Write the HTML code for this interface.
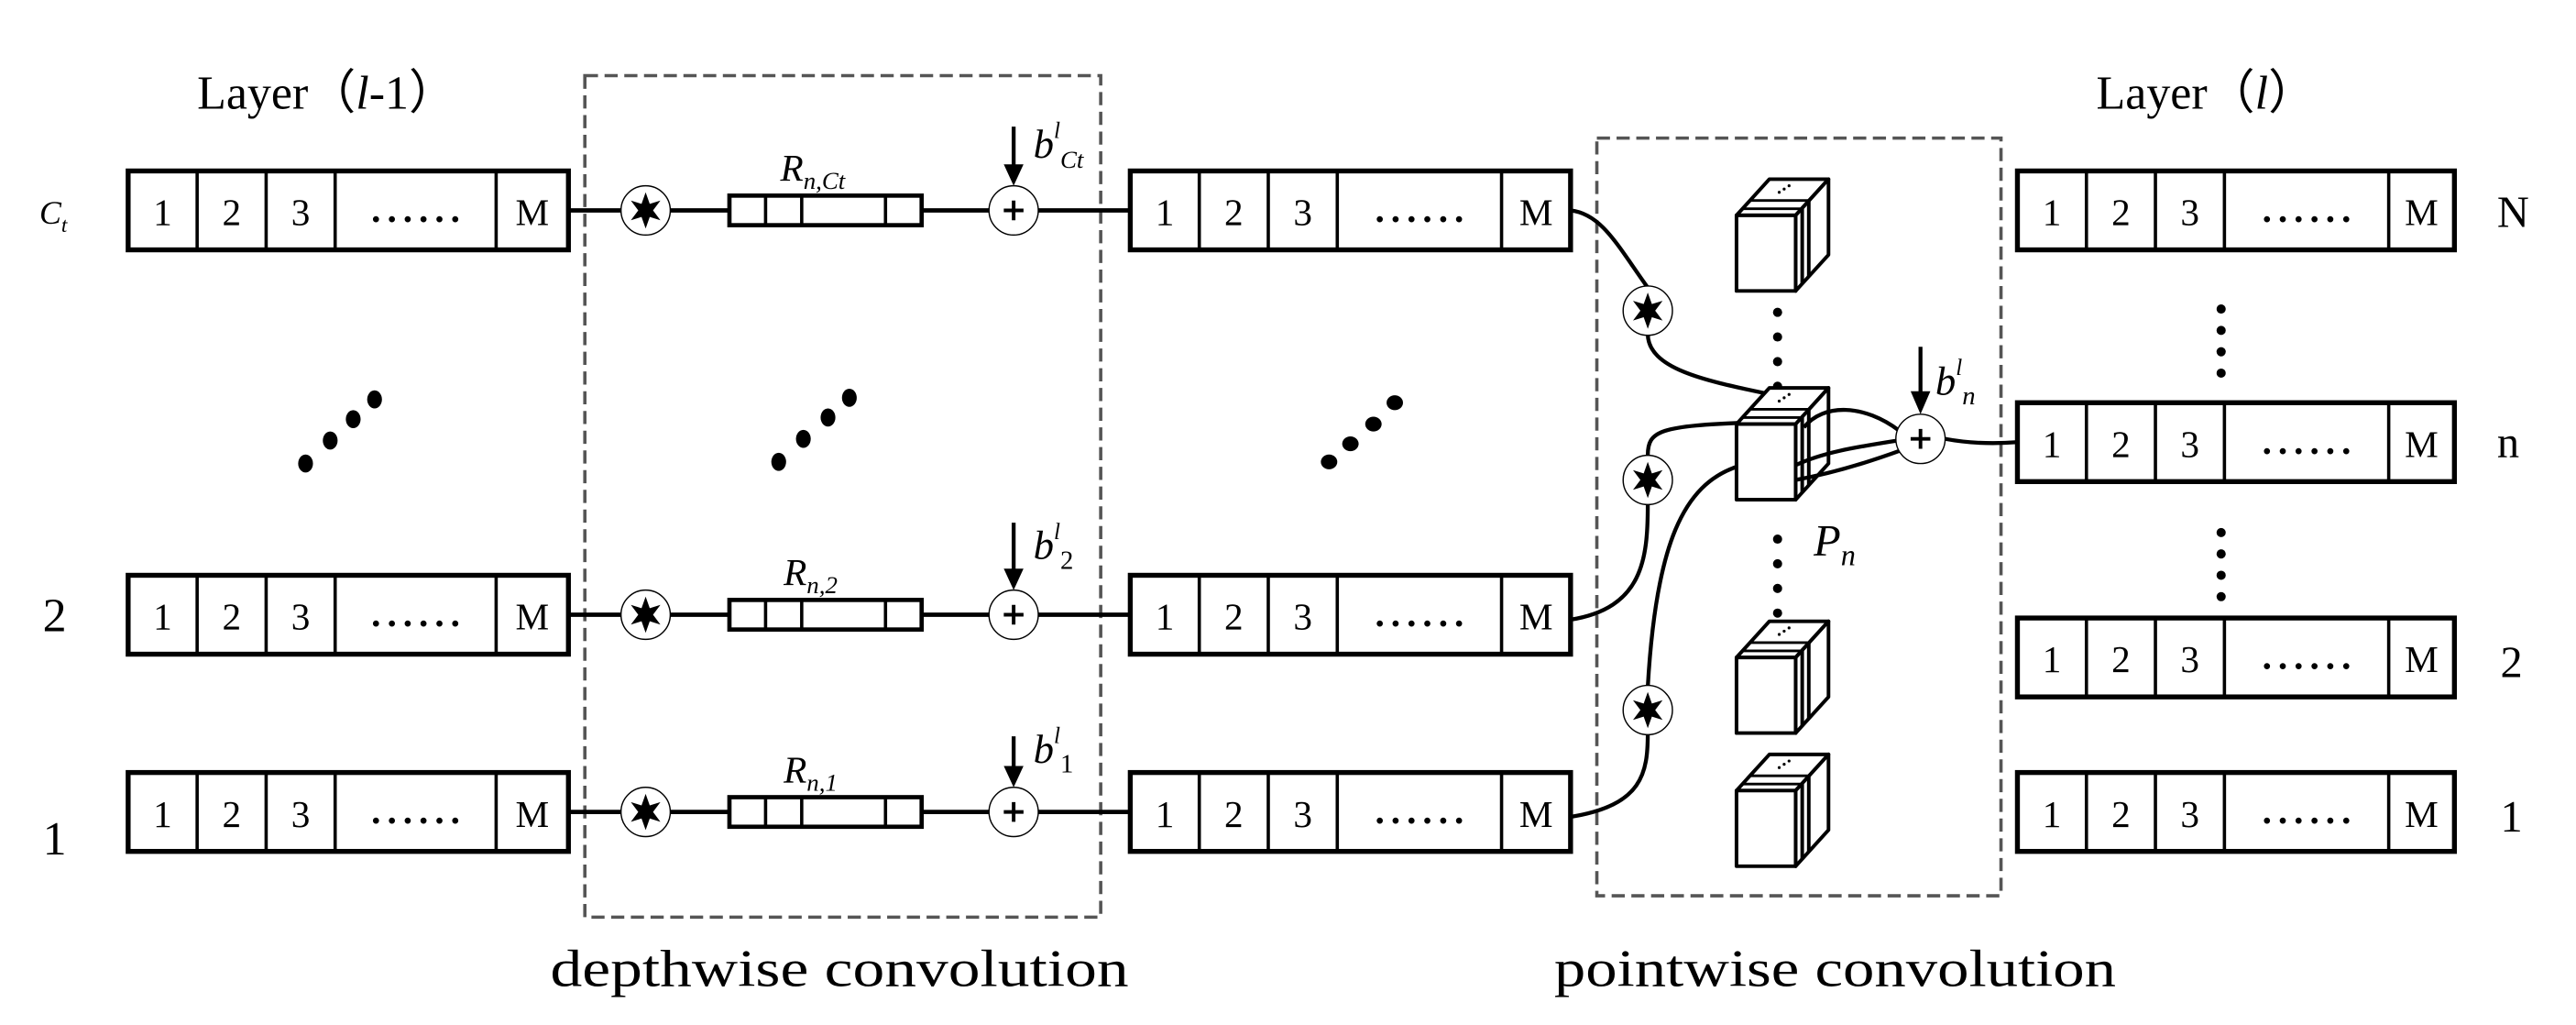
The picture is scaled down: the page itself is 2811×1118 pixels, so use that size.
<!DOCTYPE html>
<html><head><meta charset="utf-8"><style>
html,body{margin:0;padding:0;background:#fff;}
svg{display:block;}
text{font-family:"Liberation Serif",serif;fill:#000;}
.it{font-style:italic;}
</style></head><body>
<svg width="2811" height="1118" viewBox="0 0 1568 623.6" xmlns="http://www.w3.org/2000/svg">
<defs>
<g id="star">
<circle cx="0" cy="0" r="15" fill="#fff" stroke="#000" stroke-width="0.8"/>
<path d="M0,-11 L2.5,-4 L9,-6 L4.5,0 L9,6 L2.5,4 L0,11 L-2.5,4 L-9,6 L-4.5,0 L-9,-6 L-2.5,-4 Z" fill="#000"/>
</g>
<g id="plus">
<circle cx="0" cy="0" r="15" fill="#fff" stroke="#000" stroke-width="0.8"/>
<path d="M-6,0 H6 M0,-6 V6" stroke="#000" stroke-width="2.2"/>
</g>
<g id="cube" fill="#fff" stroke="#000" stroke-width="2.2" stroke-linejoin="round">
<polygon points="0,0 20,-22 56,-22 36,0"/>
<polygon points="36,0 56,-22 56,24 36,46"/>
<rect x="0" y="0" width="36" height="46"/>
<path d="M40,-4 V42 M44,-9 V37" />
<path d="M4,-4 H40 M9,-9 H44" stroke-width="1.6"/>
<circle cx="26" cy="-14" r="0.9" fill="#000" stroke="none"/>
<circle cx="29" cy="-16" r="0.9" fill="#000" stroke="none"/>
<circle cx="32" cy="-18" r="0.9" fill="#000" stroke="none"/>
</g>
</defs>

<rect x="356" y="46" width="314" height="512" fill="none" stroke="#555" stroke-width="2" stroke-dasharray="8,4"/>
<rect x="972" y="84" width="246" height="461" fill="none" stroke="#555" stroke-width="2" stroke-dasharray="8,4"/>

<text x="120" y="66" font-size="29">Layer（<tspan class="it">l</tspan>-1）</text>
<text x="1276" y="66" font-size="29">Layer（<tspan class="it">l</tspan>）</text>
<text x="335" y="600" font-size="32" textLength="352" lengthAdjust="spacingAndGlyphs">depthwise convolution</text>
<text x="946" y="600" font-size="32" textLength="342" lengthAdjust="spacingAndGlyphs">pointwise convolution</text>

<text x="24" y="136" font-size="20" class="it">C<tspan font-size="13" dy="5">t</tspan></text>
<text x="26" y="384" font-size="29">2</text>
<text x="26" y="520" font-size="29">1</text>
<text x="1520" y="138" font-size="27">N</text>
<text x="1520" y="278" font-size="27">n</text>
<text x="1522" y="412" font-size="27">2</text>
<text x="1522" y="506" font-size="27">1</text>

<g stroke="#000" stroke-width="2.6" fill="none">
<path d="M346,128 H444 M561,128 H688"/>
<path d="M346,374 H444 M561,374 H688"/>
<path d="M346,494 H444 M561,494 H688"/>
</g>
<g fill="#fff" stroke="#000" stroke-width="2.6">
<rect x="444" y="119" width="117" height="18"/>
<rect x="444" y="365" width="117" height="18"/>
<rect x="444" y="485" width="117" height="18"/>
<path d="M466,119 V137 M488,119 V137 M539,119 V137 M466,365 V383 M488,365 V383 M539,365 V383 M466,485 V503 M488,485 V503 M539,485 V503" stroke-width="2"/>
</g>
<text x="475" y="110" font-size="23" class="it">R<tspan font-size="15" dy="5">n,Ct</tspan></text>
<text x="477" y="356" font-size="23" class="it">R<tspan font-size="15" dy="5">n,2</tspan></text>
<text x="477" y="476" font-size="23" class="it">R<tspan font-size="15" dy="5">n,1</tspan></text>
<use href="#star" x="393" y="128"/>
<use href="#star" x="393" y="374"/>
<use href="#star" x="393" y="494"/>
<use href="#plus" x="617" y="128"/>
<use href="#plus" x="617" y="374"/>
<use href="#plus" x="617" y="494"/>
<g stroke="#000" stroke-width="2.4">
<path d="M617,77 V102 M617,318 V348 M617,448 V468 M1169,211 V240"/>
</g>
<g fill="#000">
<polygon points="611,100 623,100 617,113"/>
<polygon points="611,346 623,346 617,359"/>
<polygon points="611,466 623,466 617,479"/>
<polygon points="1163,238 1175,238 1169,252"/>
</g>
<text x="629" y="96" font-size="25" class="it">b<tspan font-size="14" dy="-12">l</tspan><tspan font-size="15" dy="18">Ct</tspan></text>
<text x="629" y="340" font-size="25" class="it">b<tspan font-size="14" dy="-12">l</tspan><tspan font-size="16" dy="18" font-style="normal">2</tspan></text>
<text x="629" y="464" font-size="25" class="it">b<tspan font-size="14" dy="-12">l</tspan><tspan font-size="16" dy="18" font-style="normal">1</tspan></text>
<text x="1178" y="240" font-size="25" class="it">b<tspan font-size="14" dy="-12">l</tspan><tspan font-size="16" dy="18">n</tspan></text>

<g transform="translate(78,104)">
<rect x="0" y="0" width="268" height="48" fill="#fff" stroke="#000" stroke-width="3"/>
<path d="M42,0V48 M84,0V48 M126,0V48 M224,0V48" stroke="#000" stroke-width="2"/>
<text x="21" y="33" font-size="23" text-anchor="middle">1</text><text x="63" y="33" font-size="23" text-anchor="middle">2</text><text x="105" y="33" font-size="23" text-anchor="middle">3</text><text x="148" y="31" font-size="23" font-weight="bold" textLength="54" lengthAdjust="spacing">......</text><text x="246" y="33" font-size="23" text-anchor="middle">M</text>
</g>
<g transform="translate(78,350)">
<rect x="0" y="0" width="268" height="48" fill="#fff" stroke="#000" stroke-width="3"/>
<path d="M42,0V48 M84,0V48 M126,0V48 M224,0V48" stroke="#000" stroke-width="2"/>
<text x="21" y="33" font-size="23" text-anchor="middle">1</text><text x="63" y="33" font-size="23" text-anchor="middle">2</text><text x="105" y="33" font-size="23" text-anchor="middle">3</text><text x="148" y="31" font-size="23" font-weight="bold" textLength="54" lengthAdjust="spacing">......</text><text x="246" y="33" font-size="23" text-anchor="middle">M</text>
</g>
<g transform="translate(78,470)">
<rect x="0" y="0" width="268" height="48" fill="#fff" stroke="#000" stroke-width="3"/>
<path d="M42,0V48 M84,0V48 M126,0V48 M224,0V48" stroke="#000" stroke-width="2"/>
<text x="21" y="33" font-size="23" text-anchor="middle">1</text><text x="63" y="33" font-size="23" text-anchor="middle">2</text><text x="105" y="33" font-size="23" text-anchor="middle">3</text><text x="148" y="31" font-size="23" font-weight="bold" textLength="54" lengthAdjust="spacing">......</text><text x="246" y="33" font-size="23" text-anchor="middle">M</text>
</g>
<g transform="translate(688,104)">
<rect x="0" y="0" width="268" height="48" fill="#fff" stroke="#000" stroke-width="3"/>
<path d="M42,0V48 M84,0V48 M126,0V48 M226,0V48" stroke="#000" stroke-width="2"/>
<text x="21" y="33" font-size="23" text-anchor="middle">1</text><text x="63" y="33" font-size="23" text-anchor="middle">2</text><text x="105" y="33" font-size="23" text-anchor="middle">3</text><text x="149" y="31" font-size="23" font-weight="bold" textLength="54" lengthAdjust="spacing">......</text><text x="247" y="33" font-size="23" text-anchor="middle">M</text>
</g>
<g transform="translate(688,350)">
<rect x="0" y="0" width="268" height="48" fill="#fff" stroke="#000" stroke-width="3"/>
<path d="M42,0V48 M84,0V48 M126,0V48 M226,0V48" stroke="#000" stroke-width="2"/>
<text x="21" y="33" font-size="23" text-anchor="middle">1</text><text x="63" y="33" font-size="23" text-anchor="middle">2</text><text x="105" y="33" font-size="23" text-anchor="middle">3</text><text x="149" y="31" font-size="23" font-weight="bold" textLength="54" lengthAdjust="spacing">......</text><text x="247" y="33" font-size="23" text-anchor="middle">M</text>
</g>
<g transform="translate(688,470)">
<rect x="0" y="0" width="268" height="48" fill="#fff" stroke="#000" stroke-width="3"/>
<path d="M42,0V48 M84,0V48 M126,0V48 M226,0V48" stroke="#000" stroke-width="2"/>
<text x="21" y="33" font-size="23" text-anchor="middle">1</text><text x="63" y="33" font-size="23" text-anchor="middle">2</text><text x="105" y="33" font-size="23" text-anchor="middle">3</text><text x="149" y="31" font-size="23" font-weight="bold" textLength="54" lengthAdjust="spacing">......</text><text x="247" y="33" font-size="23" text-anchor="middle">M</text>
</g>
<g transform="translate(1228,104)">
<rect x="0" y="0" width="266" height="48" fill="#fff" stroke="#000" stroke-width="3"/>
<path d="M42,0V48 M84,0V48 M126,0V48 M226,0V48" stroke="#000" stroke-width="2"/>
<text x="21" y="33" font-size="23" text-anchor="middle">1</text><text x="63" y="33" font-size="23" text-anchor="middle">2</text><text x="105" y="33" font-size="23" text-anchor="middle">3</text><text x="149" y="31" font-size="23" font-weight="bold" textLength="54" lengthAdjust="spacing">......</text><text x="246" y="33" font-size="23" text-anchor="middle">M</text>
</g>
<g transform="translate(1228,245)">
<rect x="0" y="0" width="266" height="48" fill="#fff" stroke="#000" stroke-width="3"/>
<path d="M42,0V48 M84,0V48 M126,0V48 M226,0V48" stroke="#000" stroke-width="2"/>
<text x="21" y="33" font-size="23" text-anchor="middle">1</text><text x="63" y="33" font-size="23" text-anchor="middle">2</text><text x="105" y="33" font-size="23" text-anchor="middle">3</text><text x="149" y="31" font-size="23" font-weight="bold" textLength="54" lengthAdjust="spacing">......</text><text x="246" y="33" font-size="23" text-anchor="middle">M</text>
</g>
<g transform="translate(1228,376)">
<rect x="0" y="0" width="266" height="48" fill="#fff" stroke="#000" stroke-width="3"/>
<path d="M42,0V48 M84,0V48 M126,0V48 M226,0V48" stroke="#000" stroke-width="2"/>
<text x="21" y="33" font-size="23" text-anchor="middle">1</text><text x="63" y="33" font-size="23" text-anchor="middle">2</text><text x="105" y="33" font-size="23" text-anchor="middle">3</text><text x="149" y="31" font-size="23" font-weight="bold" textLength="54" lengthAdjust="spacing">......</text><text x="246" y="33" font-size="23" text-anchor="middle">M</text>
</g>
<g transform="translate(1228,470)">
<rect x="0" y="0" width="266" height="48" fill="#fff" stroke="#000" stroke-width="3"/>
<path d="M42,0V48 M84,0V48 M126,0V48 M226,0V48" stroke="#000" stroke-width="2"/>
<text x="21" y="33" font-size="23" text-anchor="middle">1</text><text x="63" y="33" font-size="23" text-anchor="middle">2</text><text x="105" y="33" font-size="23" text-anchor="middle">3</text><text x="149" y="31" font-size="23" font-weight="bold" textLength="54" lengthAdjust="spacing">......</text><text x="246" y="33" font-size="23" text-anchor="middle">M</text>
</g>

<g fill="#000">
<ellipse cx="186" cy="282" rx="4.5" ry="5.5"/><ellipse cx="201" cy="268" rx="4.5" ry="5.5"/><ellipse cx="215" cy="255" rx="4.5" ry="5.5"/><ellipse cx="228" cy="243" rx="4.5" ry="5.5"/>
<ellipse cx="474" cy="281" rx="4.5" ry="5.5"/><ellipse cx="489" cy="267" rx="4.5" ry="5.5"/><ellipse cx="504" cy="254" rx="4.5" ry="5.5"/><ellipse cx="517" cy="242" rx="4.5" ry="5.5"/>
<ellipse cx="809" cy="281" rx="5" ry="4.5"/><ellipse cx="822" cy="270" rx="5" ry="4.5"/><ellipse cx="836" cy="258" rx="5" ry="4.5"/><ellipse cx="849" cy="245" rx="5" ry="4.5"/>
<circle cx="1352" cy="188" r="2.8"/><circle cx="1352" cy="201" r="2.8"/><circle cx="1352" cy="214" r="2.8"/><circle cx="1352" cy="227" r="2.8"/>
<circle cx="1352" cy="324" r="2.8"/><circle cx="1352" cy="337" r="2.8"/><circle cx="1352" cy="350" r="2.8"/><circle cx="1352" cy="363" r="2.8"/>
<circle cx="1082" cy="190" r="2.8"/><circle cx="1082" cy="205" r="2.8"/><circle cx="1082" cy="220" r="2.8"/><circle cx="1082" cy="235" r="2.8"/>
<circle cx="1082" cy="328" r="2.8"/><circle cx="1082" cy="343" r="2.8"/><circle cx="1082" cy="358" r="2.8"/><circle cx="1082" cy="373" r="2.8"/>
</g>

<g stroke="#000" stroke-width="2.4" fill="none">
<path d="M956,128 C975,130 985,150 1003,175"/>
<path d="M1003,203 C1003,225 1040,232 1078,240"/>
<path d="M956,377 C1000,370 1003,340 1003,307"/>
<path d="M1003,277 C1003,262 1010,259 1066,257"/>
<path d="M956,497 C1000,490 1003,470 1003,446"/>
<path d="M1003,418 C1008,330 1025,295 1057,284"/>
<path d="M1184,267 C1200,270 1215,270 1228,269"/>
</g>
<use href="#cube" x="1057" y="131"/>
<use href="#cube" x="1057" y="258"/>
<use href="#cube" x="1057" y="400"/>
<use href="#cube" x="1057" y="481"/>
<path d="M1093,283 C1110,275 1130,272 1155,268 M1093,292 C1115,288 1135,282 1157,274 M1098,260 C1110,245 1135,246 1156,262" stroke="#000" stroke-width="2.4" fill="none"/>
<use href="#star" x="1003" y="189"/>
<use href="#star" x="1003" y="292"/>
<use href="#star" x="1003" y="432"/>
<use href="#plus" x="1169" y="267"/>
<text x="1104" y="338" font-size="27" class="it">P<tspan font-size="18" dy="6">n</tspan></text>
</svg>
</body></html>
